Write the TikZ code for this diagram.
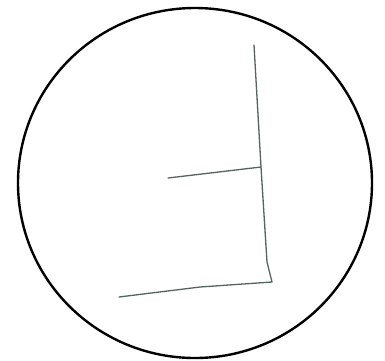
\documentclass[tikz,border=0pt]{standalone}
\begin{document}
\begin{tikzpicture}[x=1pt,y=-1pt,
  rim/.style={draw=black,line width=2.4pt},
  pencil/.style={draw={rgb,255:red,85;green,100;blue,92},line width=1.3pt,line cap=round,line join=round}]
\useasboundingbox[fill=white] (0,0) rectangle (385,360);
\draw[rim] (195,183) ellipse [x radius=177, y radius=175];
\coordinate (top) at (254,45);
\coordinate (mid) at (261,167);
\coordinate (low) at (267,262);
\coordinate (corner) at (272,282);
\coordinate (midend) at (168,178);
\coordinate (bend) at (200,287);
\coordinate (botend) at (119,297);
\draw[pencil] (top) -- (mid) -- (low) -- (corner) -- (bend) -- (botend);
\draw[pencil] (midend) -- (mid);
\end{tikzpicture}
\end{document}
